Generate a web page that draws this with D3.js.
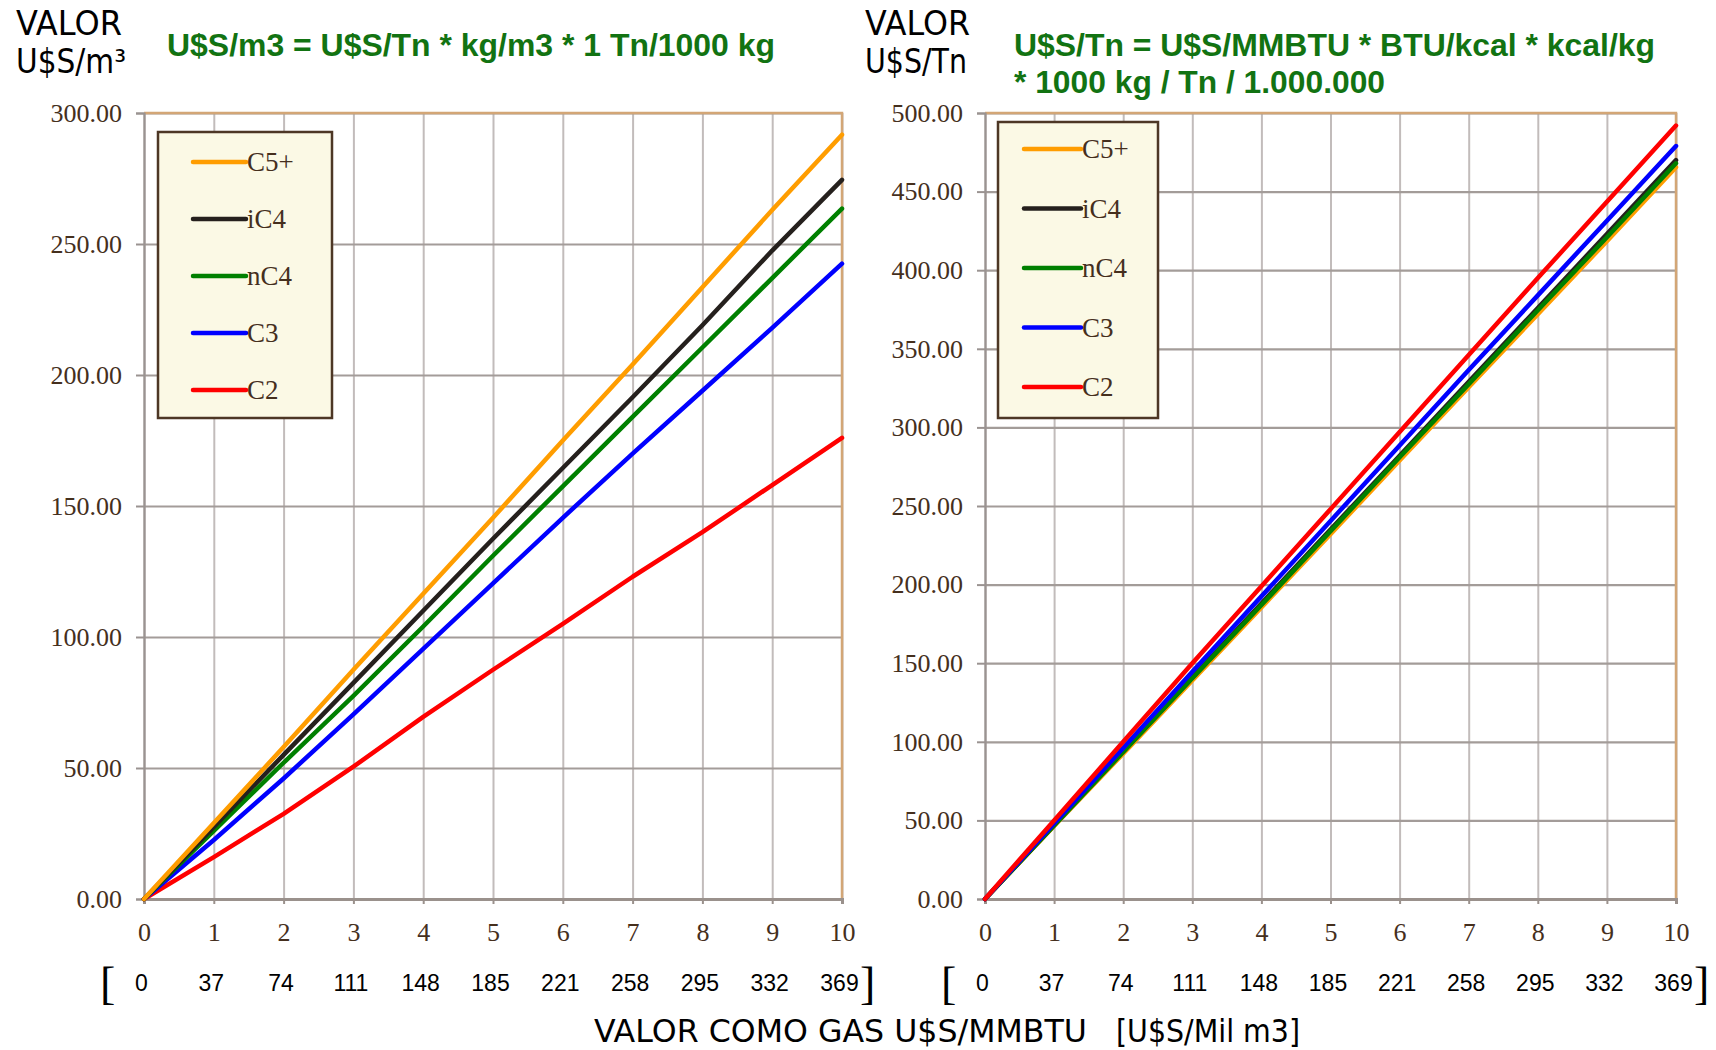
<!DOCTYPE html>
<html>
<head>
<meta charset="utf-8">
<script src="https://cdn.jsdelivr.net/npm/d3@7"></script>
<style>
  body { margin: 0; background: #fff; }
  .serif { font-family: "Liberation Serif", "DejaVu Serif", serif; }
</style>
</head>
<body>
<svg id="chart" width="1716" height="1050"></svg>
<script>
// gas price, U$S/MMBTU
const xValues = [0, 1, 2, 3, 4, 5, 6, 7, 8, 9, 10];
// same price in U$S per thousand m3
const bracketLabels = ["0", "37", "74", "111", "148", "185", "221", "258", "295", "332", "369"];

const seriesNames = ["C5+", "iC4", "nC4", "C3", "C2"];
const seriesColors = ["#ff9d00", "#25201d", "#008000", "#0000ff", "#ff0000"];

// left panel: U$S/m3
const m3C5 = [0, 29, 58, 87.5, 116.5, 145.5, 175, 204, 233.5, 263, 291.7];
const m3iC4 = [0, 27.5, 55, 82.5, 110, 137.5, 164.5, 191.5, 219, 247.5, 274.5];
const m3nC4 = [0, 26, 52, 77.5, 104, 131, 157.5, 184, 210.5, 237, 263.5];
const m3C3 = [0, 22.5, 46, 70.5, 95.5, 120.5, 145.5, 170, 194, 218, 242.5];
const m3C2 = [0, 16, 32.5, 50.5, 69.5, 87.5, 105, 123, 140, 158, 176];

// right panel: U$S/Tn
const tnC5 = [0, 46.5, 92.5, 139, 185.5, 232, 279, 325.5, 372, 418.5, 465.5];
const tniC4 = [0, 47, 94, 141, 188, 235, 282, 329, 376, 423, 470];
const tnnC4 = [0, 46.8, 93.5, 140.5, 187, 234, 281, 327.5, 374.5, 421, 468];
const tnC3 = [0, 48, 96, 144.5, 192.5, 240.5, 288.5, 336.5, 384, 431.5, 479];
const tnC2 = [0, 50, 100, 150, 199, 248, 297, 346, 395, 443.5, 492];

const yTicksM3 = [0, 50, 100, 150, 200, 250, 300];
const yTicksTn = [0, 50, 100, 150, 200, 250, 300, 350, 400, 450, 500];

const svg = d3.select("#chart");
const tickColor = "#452f1d";

function drawPanel(p) {
    const x = d3.scaleLinear().domain([0, 10]).range([p.left, p.right]);
    const y = d3.scaleLinear().domain([0, p.yMax]).range([p.bottom, p.top]);
    const g = svg.append("g");

    // vertical grid
    g.append("g")
        .attr("transform", `translate(0,${p.bottom})`)
        .call(d3.axisBottom(x).tickValues(xValues).tickSize(-(p.bottom - p.top)).tickFormat(""))
        .call(a => a.select(".domain").remove())
        .selectAll("line").attr("stroke", "#c2bcbb").attr("stroke-width", 2);

    // horizontal grid
    g.append("g")
        .attr("transform", `translate(${p.left},0)`)
        .call(d3.axisLeft(y).tickValues(p.yTicks).tickSize(-(p.right - p.left)).tickFormat(""))
        .call(a => a.select(".domain").remove())
        .selectAll("line").attr("stroke", "#a39c99").attr("stroke-width", 2.2);

    // top and right frame
    g.append("path")
        .attr("d", `M${p.left},${p.top}H${p.right}V${p.bottom}`)
        .attr("fill", "none")
        .attr("stroke", "#d3a676")
        .attr("stroke-width", 2.5);

    // y axis
    const yAxis = g.append("g")
        .attr("transform", `translate(${p.left},0)`)
        .call(d3.axisLeft(y).tickValues(p.yTicks).tickFormat(d3.format(".2f")).tickSize(8).tickPadding(14));
    yAxis.select(".domain").attr("stroke", "#9a9391").attr("stroke-width", 2.2);
    yAxis.selectAll("line").attr("stroke", "#9a9391").attr("stroke-width", 2);
    yAxis.selectAll("text").attr("class", "serif").style("font-size", "26px").attr("fill", tickColor);

    // x axis
    const xAxis = g.append("g")
        .attr("transform", `translate(0,${p.bottom})`)
        .call(d3.axisBottom(x).tickValues(xValues).tickFormat(d3.format("d")).tickSize(5).tickPadding(19));
    xAxis.select(".domain").attr("stroke", "#9a918c").attr("stroke-width", 3);
    xAxis.selectAll("line").attr("stroke", "#9a918c").attr("stroke-width", 2);
    xAxis.selectAll("text").attr("class", "serif").style("font-size", "26px").attr("fill", tickColor);

    // second row of x labels, in brackets
    const bAxis = g.append("g")
        .attr("transform", `translate(-3,${p.bottom + 73})`)
        .call(d3.axisBottom(x).tickValues(xValues).tickSize(0).tickFormat((d, i) => bracketLabels[i]));
    bAxis.select(".domain").remove();
    bAxis.selectAll("text")
        .style("font-family", "'Liberation Sans', Arial, sans-serif")
        .style("font-size", "23px")
        .attr("fill", "#000");

    g.append("text").attr("class", "serif")
        .attr("x", x(0) - 44).attr("y", p.bottom + 100)
        .style("font-size", "46px").attr("fill", "#000")
        .text("[");
    g.append("text").attr("class", "serif")
        .attr("x", x(10) + 18).attr("y", p.bottom + 100)
        .style("font-size", "46px").attr("fill", "#000")
        .text("]");

    // series lines
    const line = d3.line()
        .x((d, i) => x(xValues[i]))
        .y(d => y(d));

    const order = [4, 3, 2, 1, 0];
    if (p.redOnTop) order.reverse();
    order.forEach(i => {
        g.append("path")
            .datum(p.series[i])
            .attr("fill", "none")
            .attr("stroke", seriesColors[i])
            .attr("stroke-width", 4.5)
            .attr("stroke-linejoin", "round")
            .attr("stroke-linecap", "round")
            .attr("d", line);
    });

    // legend
    const lg = p.legend;
    g.append("rect")
        .attr("x", lg.x).attr("y", lg.y)
        .attr("width", lg.w).attr("height", lg.h)
        .attr("fill", "#fbf9e5")
        .attr("stroke", "#4d3725")
        .attr("stroke-width", 2.5);

    seriesNames.forEach((name, i) => {
        const cy = lg.first + i * lg.step;
        g.append("line")
            .attr("x1", lg.lx1).attr("x2", lg.lx2)
            .attr("y1", cy).attr("y2", cy)
            .attr("stroke", seriesColors[i])
            .attr("stroke-width", 4.5)
            .attr("stroke-linecap", "round");
        g.append("text").attr("class", "serif")
            .attr("x", lg.lx2 + 1).attr("y", cy + 9)
            .style("font-size", "27px")
            .attr("fill", tickColor)
            .text(name);
    });
}

drawPanel({
    left: 144, right: 842, top: 113, bottom: 899,
    yMax: 300, yTicks: yTicksM3,
    series: [m3C5, m3iC4, m3nC4, m3C3, m3C2],
    redOnTop: false,
    legend: { x: 158, y: 132, w: 174, h: 286, lx1: 193, lx2: 246, first: 162, step: 57 }
});

drawPanel({
    left: 985, right: 1676, top: 113, bottom: 899,
    yMax: 500, yTicks: yTicksTn,
    series: [tnC5, tniC4, tnnC4, tnC3, tnC2],
    redOnTop: true,
    legend: { x: 998, y: 122, w: 160, h: 296, lx1: 1024, lx2: 1081, first: 149, step: 59.5 }
});

// unit titles
function unitLabel(x, y, str, len) {
    svg.append("text")
        .attr("x", x).attr("y", y)
        .attr("textLength", len).attr("lengthAdjust", "spacingAndGlyphs")
        .style("font-family", "'DejaVu Sans', sans-serif")
        .style("font-size", "33px")
        .attr("fill", "#000")
        .text(str);
}
unitLabel(16, 35, "VALOR", 106);
unitLabel(16, 73, "U$S/m³", 110);
unitLabel(865, 35, "VALOR", 105);
unitLabel(865, 73, "U$S/Tn", 102);

// formulas
function formula(x, y, str, len) {
    svg.append("text")
        .attr("x", x).attr("y", y)
        .attr("textLength", len).attr("lengthAdjust", "spacingAndGlyphs")
        .style("font-family", "'Liberation Sans', Arial, sans-serif")
        .style("font-weight", "bold")
        .style("font-size", "31px")
        .attr("fill", "#127312")
        .text(str);
}
formula(167, 56, "U$S/m3 = U$S/Tn * kg/m3 * 1 Tn/1000 kg", 608);
formula(1014, 56, "U$S/Tn = U$S/MMBTU * BTU/kcal * kcal/kg", 641);
formula(1014, 93, "* 1000 kg / Tn / 1.000.000", 371);

// shared x title
svg.append("text")
    .attr("x", 594).attr("y", 1042)
    .attr("textLength", 493).attr("lengthAdjust", "spacingAndGlyphs")
    .style("font-family", "'DejaVu Sans', sans-serif")
    .style("font-size", "32px")
    .attr("fill", "#000")
    .text("VALOR COMO GAS U$S/MMBTU");
svg.append("text")
    .attr("x", 1116).attr("y", 1042)
    .attr("textLength", 184).attr("lengthAdjust", "spacingAndGlyphs")
    .style("font-family", "'DejaVu Sans', sans-serif")
    .style("font-size", "32px")
    .attr("fill", "#000")
    .text("[U$S/Mil m3]");
</script>
</body>
</html>
